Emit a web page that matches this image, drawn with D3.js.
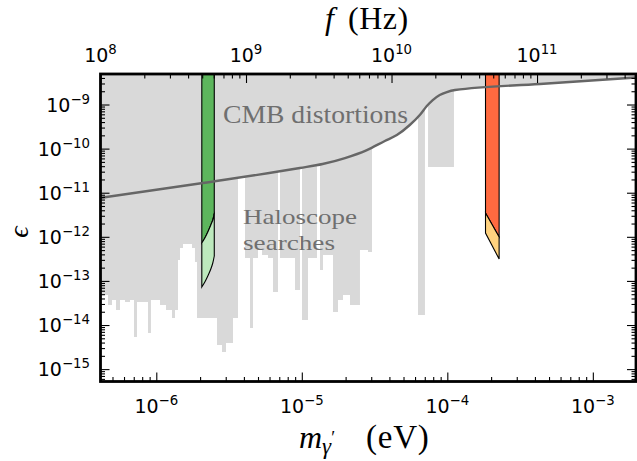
<!DOCTYPE html>
<html><head><meta charset="utf-8">
<script src="https://cdn.jsdelivr.net/npm/d3@7"></script>
<style>body{margin:0;background:#fff}svg{display:block}</style>
</head><body>
<svg id="c" width="637" height="461"></svg>
<script>
// ---------- data ----------
const massDomain = [4.136e-7, 1.98e-3];      // eV
const epsDomain  = [5.24e-16, 4.92e-9];
const HZ_PER_EV  = 2.418e14;
const massTicks = [1e-6, 1e-5, 1e-4, 1e-3];
const massTickLabels = ["\u22126", "\u22125", "\u22124", "\u22123"];
const freqTicks = [1e8, 1e9, 1e10, 1e11];
const freqTickLabels = ["8", "9", "10", "11"];
const epsTicks = [1e-9, 1e-10, 1e-11, 1e-12, 1e-13, 1e-14, 1e-15];
const epsTickLabels = ["\u22129", "\u221210", "\u221211", "\u221212", "\u221213", "\u221214", "\u221215"];

// CMB distortions bound
const cmbMass = [4.09e-7, 2.09e-6, 9.7e-6, 1.39e-5, 1.98e-5, 2.80e-5, 3.72e-5, 4.50e-5, 5.52e-5, 6.47e-5, 7.23e-5, 7.94e-5, 8.87e-5, 9.93e-5, 1.13e-4, 4.33e-4, 1.98e-3];
const cmbEps  = [7.6e-12, 1.66e-11, 3.63e-11, 4.48e-11, 6.12e-11, 9.29e-11, 1.49e-10, 2.03e-10, 3.43e-10, 5.78e-10, 9.25e-10, 1.26e-9, 1.64e-9, 1.92e-9, 2.13e-9, 2.92e-9, 4.09e-9];

// Haloscope exclusions: mass range [lo, hi] excluded above eps
const haloLo  = [4.136e-7, 4.657e-7, 4.96e-7, 5.285e-7, 5.63e-7, 6.095e-7, 6.596e-7, 7.028e-7, 7.37e-7, 8.77e-7, 9.19e-7, 1.06e-6, 1.166e-6, 1.282e-6, 1.344e-6, 1.41e-6, 1.455e-6, 1.526e-6, 1.759e-6, 1.844e-6, 1.904e-6, 2.614e-6, 2.828e-6, 3.013e-6, 3.365e-6, 4.07e-6, 4.405e-6, 4.62e-6, 5.0e-6, 5.33e-6, 5.857e-6, 6.34e-6, 7.08e-6, 8.98e-6, 1.003e-5, 1.103e-5, 1.334e-5, 1.398e-5, 1.638e-5, 1.773e-5, 1.919e-5, 2.144e-5, 2.51e-5, 2.85e-5, 6.29e-5, 7.37e-5];
const haloHi  = [4.657e-7, 4.96e-7, 5.285e-7, 5.63e-7, 6.095e-7, 6.596e-7, 7.028e-7, 7.37e-7, 8.77e-7, 9.19e-7, 1.06e-6, 1.166e-6, 1.282e-6, 1.344e-6, 1.41e-6, 1.455e-6, 1.526e-6, 1.759e-6, 1.844e-6, 1.904e-6, 2.614e-6, 2.828e-6, 3.013e-6, 3.365e-6, 3.643e-6, 4.405e-6, 4.62e-6, 5.0e-6, 5.33e-6, 5.857e-6, 6.34e-6, 6.86e-6, 8.98e-6, 9.72e-6, 1.103e-5, 1.272e-5, 1.398e-5, 1.638e-5, 1.773e-5, 1.919e-5, 2.144e-5, 2.51e-5, 2.85e-5, 3.036e-5, 7.02e-5, 1.111e-4];
const haloEps = [4.8e-14, 2.85e-14, 3.69e-14, 2.19e-14, 3.69e-14, 3.33e-14, 3.69e-14, 5.35e-15, 3.33e-14, 6.59e-15, 3.69e-14, 2.85e-14, 2.19e-14, 1.44e-14, 2.19e-14, 2.98e-13, 5.57e-13, 6.87e-13, 5.57e-13, 2.69e-13, 1.44e-14, 3.52e-15, 2.44e-15, 3.91e-15, 1.44e-14, 3.31e-13, 8.55e-15, 3.31e-13, 5.02e-13, 3.87e-13, 3.31e-13, 5.61e-14, 3.31e-13, 6.22e-14, 1.3e-14, 3.31e-13, 1.77e-13, 3.87e-13, 1.97e-14, 3.69e-14, 4.8e-14, 2.85e-14, 5.02e-13, 4.53e-13, 1.69e-14, 3.83e-11];

// projected sensitivity, green band (~0.5-0.6 GHz)
const greenMass     = [2.055e-6, 2.156e-6, 2.26e-6, 2.37e-6, 2.445e-6, 2.503e-6];
const greenUpperEps = [7.23e-13, 9.39e-13, 1.285e-12, 1.853e-12, 2.405e-12, 3.47e-12];
const greenLowerEps = [7.28e-14, 9.45e-14, 1.29e-13, 1.86e-13, 2.55e-13, 3.67e-13];
// projected sensitivity, red band (~45-55 GHz)
const redMass     = [1.83e-4, 2.27e-4];
const redUpperEps = [3.47e-12, 9.9e-13];
const redLowerEps = [1.22e-12, 3.14e-13];

// ---------- layout ----------
const P = {left: 100.5, right: 636, top: 74, bottom: 381.5};
const svg = d3.select("#c");
const x  = d3.scaleLog().domain(massDomain).range([P.left, P.right]);
const xf = d3.scaleLog().domain(massDomain.map(m => m * HZ_PER_EV)).range([P.left, P.right]);
const y  = d3.scaleLog().domain(epsDomain).range([P.bottom, P.top]);

const GRAY = "#d9d9d9";
svg.append("defs").append("clipPath").attr("id", "clip")
  .append("rect").attr("x", P.left).attr("y", P.top)
  .attr("width", P.right - P.left).attr("height", P.bottom - P.top);
const g = svg.append("g").attr("clip-path", "url(#clip)");

// haloscope columns as one path
let hp = "";
haloLo.forEach((lo, i) => {
  const x0 = x(lo), x1 = x(haloHi[i]), yb = y(haloEps[i]);
  hp += `M${x0},${P.top - 2}H${x1}V${yb}H${x0}Z`;
});
g.append("path").attr("d", hp).attr("fill", GRAY);

// CMB excluded region
const cmbPts = cmbMass.map((m, i) => [m, cmbEps[i]]);
g.append("path").datum(cmbPts)
  .attr("fill", GRAY)
  .attr("d", d3.area().x(d => x(d[0])).y0(P.top - 2).y1(d => y(d[1])).curve(d3.curveMonotoneX));

// green band
const gUp = greenMass.map((m, i) => [x(m), y(greenUpperEps[i])]);
const gLo = greenMass.map((m, i) => [x(m), y(greenLowerEps[i])]);
const line = d3.line().curve(d3.curveCatmullRom);
const gx0 = x(greenMass[0]), gx1 = x(greenMass[greenMass.length - 1]);
g.append("path")
  .attr("d", `M${gx0},${P.top - 3}H${gx1}V${gUp[gUp.length-1][1]}` + line(gUp.slice().reverse()).replace(/^M/, "L") + "Z")
  .attr("fill", "#5db65d").attr("stroke", "#000").attr("stroke-width", 1.1);
g.append("path")
  .attr("d", line(gUp) + `L${gLo[gLo.length-1][0]},${gLo[gLo.length-1][1]}` + line(gLo.slice().reverse()).replace(/^M/, "L") + "Z")
  .attr("fill", "#bde9bd").attr("stroke", "#000").attr("stroke-width", 1.1);

// red band
const rx0 = x(redMass[0]), rx1 = x(redMass[1]);
g.append("path")
  .attr("d", `M${rx0},${P.top - 3}H${rx1}V${y(redUpperEps[1])}L${rx0},${y(redUpperEps[0])}Z`)
  .attr("fill", "#ff6a40").attr("stroke", "#000").attr("stroke-width", 1.1);
g.append("path")
  .attr("d", `M${rx0},${y(redUpperEps[0])}L${rx1},${y(redUpperEps[1])}V${y(redLowerEps[1])}L${rx0},${y(redLowerEps[0])}Z`)
  .attr("fill", "#ffd27f").attr("stroke", "#000").attr("stroke-width", 1.1);

// CMB line
g.append("path").datum(cmbPts)
  .attr("fill", "none").attr("stroke", "#666").attr("stroke-width", 2.4)
  .attr("d", d3.line().x(d => x(d[0])).y(d => y(d[1])).curve(d3.curveMonotoneX));

// annotations
const serif = "'Liberation Serif', 'DejaVu Serif', serif";
svg.append("text").attr("x", 223).attr("y", 123).attr("font-family", serif).attr("font-size", 25)
  .attr("fill", "#6f6f6f").attr("textLength", 185).attr("lengthAdjust", "spacingAndGlyphs").text("CMB distortions");
svg.append("text").attr("x", 243).attr("y", 223.5).attr("font-family", serif).attr("font-size", 22)
  .attr("fill", "#6f6f6f").attr("textLength", 114).attr("lengthAdjust", "spacingAndGlyphs").text("Haloscope");
svg.append("text").attr("x", 243).attr("y", 249.5).attr("font-family", serif).attr("font-size", 22)
  .attr("fill", "#6f6f6f").attr("textLength", 92).attr("lengthAdjust", "spacingAndGlyphs").text("searches");

// ---------- axes ----------
const isPow = v => Math.abs(Math.log10(v) - Math.round(Math.log10(v))) < 1e-6;
function ticksOn(axisGen, scale, majors, tr) {
  const minors = scale.ticks().filter(v => !isPow(v));
  const gm = svg.append("g").attr("transform", tr)
    .call(axisGen(scale).tickValues(minors).tickSizeInner(-4.5).tickSizeOuter(0).tickFormat(""));
  const gM = svg.append("g").attr("transform", tr)
    .call(axisGen(scale).tickValues(majors).tickSizeInner(-9).tickSizeOuter(0).tickFormat(""));
  [gm, gM].forEach(s => { s.select(".domain").remove(); s.selectAll("line").attr("stroke", "#000").attr("stroke-width", 1.1); });
}
ticksOn(d3.axisBottom, x, massTicks, `translate(0,${P.bottom})`);
ticksOn(d3.axisTop, xf, freqTicks, `translate(0,${P.top})`);
ticksOn(d3.axisLeft, y, epsTicks, `translate(${P.left},0)`);
ticksOn(d3.axisRight, y, epsTicks, `translate(${P.right},0)`);

const sans = "'DejaVu Sans', sans-serif";
function powLabel(t, exp) {
  t.append("tspan").text("10");
  t.append("tspan").attr("font-size", 13.3).attr("dy", -8).text(exp);
}
massTicks.forEach((v, i) => {
  const t = svg.append("text").attr("x", x(v)).attr("y", 413).attr("text-anchor", "middle")
    .attr("font-family", sans).attr("font-size", 19);
  powLabel(t, massTickLabels[i]);
});
freqTicks.forEach((v, i) => {
  const t = svg.append("text").attr("x", xf(v)).attr("y", 62).attr("text-anchor", "middle")
    .attr("font-family", sans).attr("font-size", 19);
  powLabel(t, freqTickLabels[i]);
});
epsTicks.forEach((v, i) => {
  const t = svg.append("text").attr("x", 90).attr("y", y(v) + 7).attr("text-anchor", "end")
    .attr("font-family", sans).attr("font-size", 19);
  powLabel(t, epsTickLabels[i]);
});

// frame
svg.append("rect").attr("x", P.left).attr("y", P.top)
  .attr("width", P.right - P.left).attr("height", P.bottom - P.top)
  .attr("fill", "none").attr("stroke", "#000").attr("stroke-width", 2.8);

// axis titles
const ft = svg.append("text").attr("x", 325).attr("y", 29)
  .attr("font-family", serif).attr("font-size", 32);
ft.append("tspan").attr("font-style", "italic").text("f");
ft.append("tspan").attr("x", 348).attr("letter-spacing", 0.5).text("(Hz)");

const mt = svg.append("text").attr("x", 299).attr("y", 448)
  .attr("font-family", serif).attr("font-size", 32);
mt.append("tspan").attr("font-style", "italic").text("m");
mt.append("tspan").attr("font-style", "italic").attr("font-size", 23).attr("dy", 6).text("γ");
mt.append("tspan").attr("font-size", 18).attr("dy", -10).text("′");
mt.append("tspan").attr("x", 366).attr("dy", 4).attr("font-size", 33).attr("letter-spacing", 0.8).text("(eV)");

svg.append("text").attr("transform", "translate(28,232) rotate(-90)").attr("text-anchor", "middle")
  .attr("font-family", serif).attr("font-style", "italic").attr("font-size", 28).text("ϵ");
</script>
</body></html>
